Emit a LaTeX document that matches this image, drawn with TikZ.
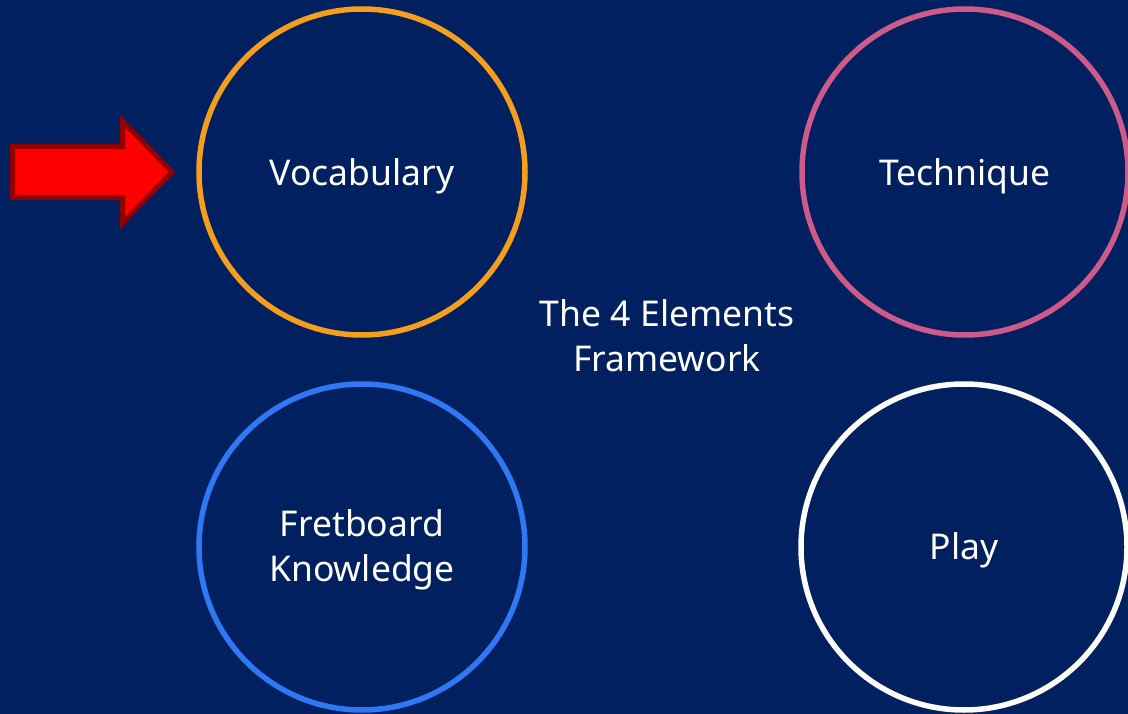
\documentclass[tikz,border=0pt]{standalone}
\usepackage{fontspec}
\setmainfont{Noto Sans}
\definecolor{navy}{HTML}{00205F}
\definecolor{corange}{HTML}{F59E1C}
\definecolor{cpink}{HTML}{CE5A8A}
\definecolor{cblue}{HTML}{2E78F4}
\definecolor{arrowred}{HTML}{FF0000}
\definecolor{arrowdark}{HTML}{920000}
\begin{document}
\begin{tikzpicture}[x=1pt,y=-1pt,
  ring/.style={circle,draw,line width=5.5pt,minimum size=326pt,inner sep=0pt},
  label/.style={text=white,font=\fontsize{35.5}{45}\selectfont,align=center}]
\fill[navy] (0,0) rectangle (1128,714);
\useasboundingbox (0,0) rectangle (1128,714);
\node[ring,draw=corange] (voc) at (362,172) {};
\node[ring,draw=cpink] (tec) at (965,172) {};
\node[ring,draw=white] (play) at (964,547) {};
\node[ring,draw=cblue] (fret) at (362,547) {};
\node[label] (voclabel) at (362,176) {Vocabulary};
\node[label] (teclabel) at (965,176) {Technique};
\node[label] (playlabel) at (964,550) {Play};
\node[label] (fretlabel) at (362,550) {Fretboard\\Knowledge};
\node[label] (title) at (667,336) {The 4 Elements\\Framework};
\draw[fill=arrowred,draw=arrowdark,line width=5pt,line join=miter]
  (12.5,146.5) -- (122.5,146.5) -- (122.5,121) -- (172,172) -- (122.5,223) -- (122.5,197.5) -- (12.5,197.5) -- cycle;
\end{tikzpicture}
\end{document}
